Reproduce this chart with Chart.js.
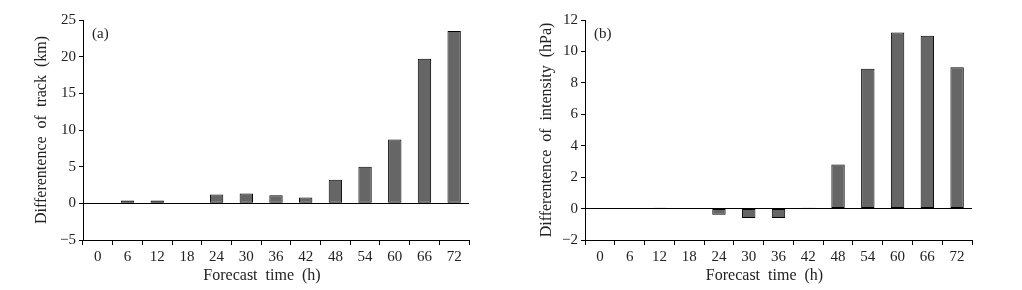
<!DOCTYPE html>
<html><head><meta charset="utf-8">
<script src="https://cdn.jsdelivr.net/npm/chart.js@4/dist/chart.umd.min.js"></script>
<style>
html,body{margin:0;padding:0;background:#fff;}
#wrap{position:relative;width:1022px;height:290px;}
canvas{position:absolute;top:0;}
</style></head><body>
<div id="wrap">
<canvas id="ca" width="511" height="290" style="left:0"></canvas>
<canvas id="cb" width="511" height="290" style="left:511px"></canvas>
</div>
<script>
const categories = ['0','6','12','18','24','30','36','42','48','54','60','66','72'];
const trackDiff = [0, 0.4, 0.4, 0, 1.2, 1.35, 1.1, 0.8, 3.2, 5.0, 8.7, 19.7, 23.5];
const intensityDiff = [0, 0, 0.05, 0, -0.4, -0.6, -0.6, 0.05, 2.8, 8.9, 11.2, 11.0, 9.0];
const trackTicks = {min: -5, max: 25, step: 5};
const intensityTicks = {min: -2, max: 12, step: 2};
const labelsText = {a: '(a)', b: '(b)'};
const yTitles = {a: 'Differentence  of  track  (km)', b: 'Differentence  of  intensity  (hPa)'};
const xTitle = 'Forecast  time  (h)';

const FONT = 'Liberation Serif, Times New Roman, serif';
const TXT = '#222';

function panelLabel(text, x, y) {
  return {
    id: 'panelLabel',
    afterDraw(chart) {
      const c = chart.ctx;
      c.save();
      c.font = '15px ' + FONT;
      c.fillStyle = TXT;
      c.textBaseline = 'middle';
      c.textAlign = 'left';
      c.fillText(text, chart.chartArea.left + x, chart.chartArea.top + y);
      c.restore();
    }
  };
}

function makeChart(id, data, tk, yTitle, label, cfg) {
  return new Chart(document.getElementById(id), {
    type: 'bar',
    data: {
      labels: categories,
      datasets: [{
        data: data,
        backgroundColor: '#666666',
        borderColor: '#000',
        borderWidth: 1,
        borderSkipped: false,
        categoryPercentage: 1,
        barPercentage: 0.45
      }]
    },
    options: {
      responsive: false,
      animation: false,
      layout: {padding: {left: 0, right: cfg.right, top: 20, bottom: 0}},
      plugins: {legend: {display: false}, tooltip: {enabled: false}},
      scales: {
        x: {
          offset: true,
          grid: {display: true, offset: true, drawOnChartArea: false, tickLength: 5, color: '#000', tickColor: '#000'},
          border: {display: true, color: '#000', width: 1},
          ticks: {color: TXT, font: {family: FONT, size: 15}, padding: 3, maxRotation: 0},
          title: {display: true, text: xTitle + '\u00a0\u00a0\u00a0\u00a0\u00a0\u00a0\u00a0', color: TXT, font: {family: FONT, size: 16}, padding: {top: 5, bottom: 5}},
          afterFit(s) { s.height = 50; }
        },
        y: {
          min: tk.min, max: tk.max,
          grid: {
            drawOnChartArea: true,
            color: (c) => (c.tick && c.tick.value === 0) ? '#000' : 'rgba(0,0,0,0)',
            tickColor: '#000',
            tickLength: 4
          },
          border: {display: true, color: '#000', width: 1},
          ticks: {
            stepSize: tk.step, color: TXT, font: {family: FONT, size: 15}, padding: 3,
            callback: (v) => String(v).replace('-', '\u2212')
          },
          title: {display: true, text: yTitle, color: TXT, font: {family: FONT, size: 16}, padding: {top: cfg.tpad, bottom: cfg.tpad}},
          afterFit(s) { s.width = cfg.yw; }
        }
      }
    },
    plugins: [panelLabel(label, 9, 14)]
  });
}

makeChart('ca', trackDiff, trackTicks, yTitles.a, labelsText.a, {right: 42, yw: 83, tpad: 32});
makeChart('cb', intensityDiff, intensityTicks, yTitles.b, labelsText.b, {right: 50, yw: 74, tpad: 26});
</script>
</body></html>
